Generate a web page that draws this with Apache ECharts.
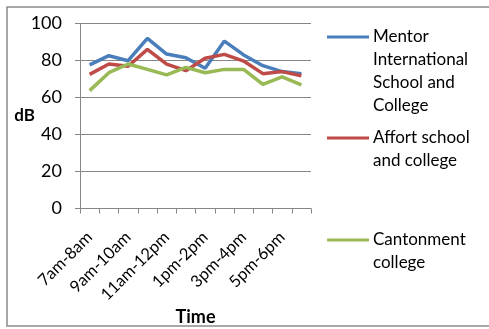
<!DOCTYPE html>
<html>
<head>
<meta charset="utf-8">
<script src="https://cdn.jsdelivr.net/npm/echarts@6/dist/echarts.min.js"></script>
<style>
  html, body { margin: 0; padding: 0; background: #fff; }
  #chart { width: 489px; height: 329px; }
</style>
</head>
<body>
<div id="chart"></div>
<script>
// Hourly noise levels (dB) at three schools
const timeSlots = ['7am-8am', '8am-9am', '9am-10am', '10am-11am', '11am-12pm', '12pm-1pm',
                   '1pm-2pm', '2pm-3pm', '3pm-4pm', '4pm-5pm', '5pm-6pm', '6pm-7pm'];
const mentorLevels   = [77.6, 82.6, 79.9, 92.0, 83.5, 81.5, 75.8, 90.5, 83.0, 77.2, 74.0, 72.9];
const affortLevels   = [72.5, 78.1, 76.9, 86.0, 78.0, 74.5, 81.2, 83.3, 79.7, 72.9, 74.0, 71.8];
const cantonLevels   = [63.7, 73.4, 78.1, 75.2, 72.2, 76.3, 73.4, 75.2, 75.2, 67.1, 71.2, 66.8];
const yTicks = [0, 20, 40, 60, 80, 100];

const seriesNames = ['Mentor International School and College', 'Affort school and college', 'Cantonment college'];
const legendLines = [
  ['Mentor', 'International', 'School and', 'College'],
  ['Affort school', 'and college'],
  ['Cantonment', 'college']
];
const colors = ['#4a7ebb', '#be4b48', '#98b954'];
const FONT = 'Lato, "Open Sans", sans-serif';

const chart = echarts.init(document.getElementById('chart'));

// legend drawn as graphic: line sample aligned with first text line
const legendTops = [37, 138, 240];
const legendGraphics = [];
legendLines.forEach((lines, i) => {
  legendGraphics.push({
    type: 'line',
    shape: { x1: 327, y1: legendTops[i], x2: 369, y2: legendTops[i] },
    style: { stroke: colors[i], lineWidth: 3 }
  });
  lines.forEach((t, j) => {
    legendGraphics.push({
      type: 'text',
      x: 373, y: legendTops[i] + j * 23,
      style: { text: t, fill: '#000', font: '17px ' + FONT, textVerticalAlign: 'middle', textAlign: 'left' }
    });
  });
});

chart.setOption({
  animation: false,
  grid: { left: 80, right: 178, top: 23.5, bottom: 120.5, containLabel: false, outerBoundsMode: 'none' },
  xAxis: {
    type: 'category',
    data: timeSlots,
    boundaryGap: true,
    name: 'Time',
    nameLocation: 'middle',
    nameGap: 100,
    nameMoveOverlap: false,
    nameTextStyle: { fontFamily: FONT, fontSize: 18, fontWeight: 'bold', color: '#000' },
    axisLine: { lineStyle: { color: '#868686', width: 1 } },
    axisTick: { show: true, alignWithLabel: false, interval: 0, length: 5, lineStyle: { color: '#868686' } },
    axisLabel: { interval: 1, rotate: 45, margin: 26, fontFamily: FONT, fontSize: 16.5, color: '#000' },
    splitLine: { show: false }
  },
  yAxis: {
    type: 'value',
    min: yTicks[0],
    max: yTicks[yTicks.length - 1],
    interval: 20,
    name: 'dB',
    nameLocation: 'middle',
    nameRotate: 0,
    nameGap: 45,
    nameMoveOverlap: false,
    nameTextStyle: { fontFamily: FONT, fontSize: 17, fontWeight: 'bold', color: '#000', padding: [11, 0, 0, 0] },
    axisLine: { show: true, lineStyle: { color: '#868686', width: 1 } },
    axisTick: { show: true, length: 5, lineStyle: { color: '#868686' } },
    axisLabel: { margin: 18, fontFamily: FONT, fontSize: 18, color: '#000' },
    splitLine: { show: true, lineStyle: { color: '#868686', width: 1 } }
  },
  series: [mentorLevels, affortLevels, cantonLevels].map((d, i) => ({
    name: seriesNames[i],
    type: 'line',
    data: d,
    symbol: 'none',
    lineStyle: { color: colors[i], width: 3.5 },
    itemStyle: { color: colors[i] }
  })),
  graphic: [
    {
      type: 'rect',
      shape: { x: 7, y: 7, width: 490, height: 319 },
      style: { fill: 'none', stroke: '#8c8c8c', lineWidth: 1.5 },
      silent: true
    }
  ].concat(legendGraphics)
});
</script>
</body>
</html>
